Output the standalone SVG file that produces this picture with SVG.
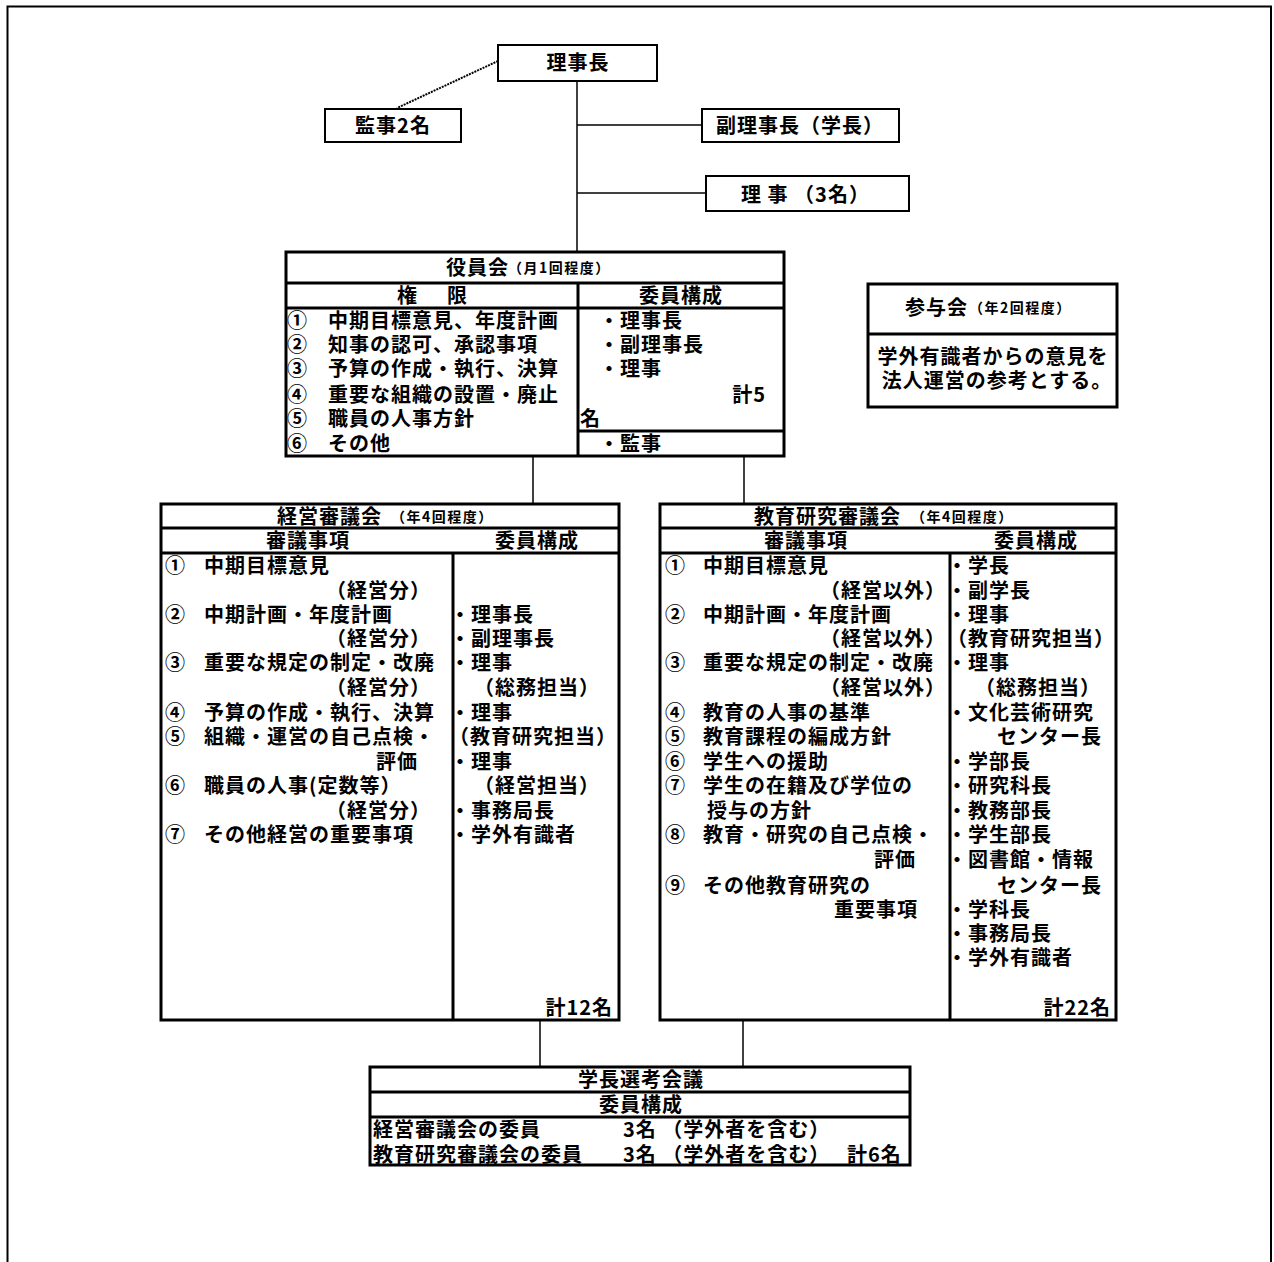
<svg xmlns="http://www.w3.org/2000/svg" width="1274" height="1262" viewBox="0 0 1274 1262">
<style>
text{font-family:"Noto Sans CJK JP","Noto Sans CJK SC",sans-serif;font-weight:bold;font-size:20px;letter-spacing:1px;fill:#000}
.s{font-size:14px;letter-spacing:1.5px}
.c{text-anchor:middle}
.e{text-anchor:end}
.box{fill:#fff;stroke:#000;stroke-width:2}
.big{fill:#fff;stroke:#000;stroke-width:3}
.ln{stroke:#000;stroke-width:3;fill:none}
.con{stroke:#000;stroke-width:1.5;fill:none}
</style>
<rect width="1274" height="1262" fill="#fff"/>
<path d="M7.5,1262 V6.5 H1271 V1262" fill="none" stroke="#000" stroke-width="2"/>

<g id="connectors">
<line class="con" x1="577" y1="81" x2="577" y2="252"/>
<line class="con" x1="577" y1="125" x2="702" y2="125"/>
<line class="con" x1="577" y1="193" x2="706" y2="193"/>
<line x1="498" y1="61" x2="397" y2="108" stroke="#000" stroke-width="2" stroke-dasharray="2,1"/>
<line class="con" x1="533" y1="456" x2="533" y2="504"/>
<line class="con" x1="744" y1="456" x2="744" y2="504"/>
<line class="con" x1="540" y1="1020" x2="540" y2="1067"/>
<line class="con" x1="743" y1="1020" x2="743" y2="1067"/>
</g>

<g id="rijicho">
<rect class="box" x="498" y="45" width="159" height="36"/>
<text class="c" x="578" y="70">理事長</text>
</g>

<g id="kanji">
<rect class="box" x="325" y="109" width="136" height="33"/>
<text class="c" x="393" y="133">監事2名</text>
</g>

<g id="fukurijicho">
<rect class="box" x="702" y="109" width="197" height="33"/>
<text class="c" x="800" y="133">副理事長（学長）</text>
</g>

<g id="riji">
<rect class="box" x="706" y="176" width="203" height="35"/>
<text x="741" y="202">理 事 （3名）</text>
</g>

<g id="yakuinkai">
<rect class="big" x="286" y="252" width="498" height="204"/>
<line class="ln" x1="286" y1="283" x2="784" y2="283"/>
<line class="ln" x1="286" y1="308" x2="784" y2="308"/>
<line class="ln" x1="578" y1="283" x2="578" y2="456"/>
<line class="ln" x1="578" y1="431" x2="784" y2="431"/>
<text x="446" y="275">役員会</text>
<text class="s" x="508" y="273">（月1回程度）</text>
<text x="397" y="303">権</text>
<text x="447" y="303">限</text>
<text class="c" x="681" y="303">委員構成</text>
<text x="287" y="328">①</text><text x="328" y="328">中期目標意見、年度計画</text>
<text x="287" y="352">②</text><text x="328" y="352">知事の認可、承認事項</text>
<text x="287" y="376">③</text><text x="328" y="376">予算の作成・執行、決算</text>
<text x="287" y="402">④</text><text x="328" y="402">重要な組織の設置・廃止</text>
<text x="287" y="426">⑤</text><text x="328" y="426">職員の人事方針</text>
<text x="287" y="451">⑥</text><text x="328" y="451">その他</text>
<text x="599" y="328">・理事長</text>
<text x="599" y="352">・副理事長</text>
<text x="599" y="376">・理事</text>
<text class="e" x="766" y="402">計5</text>
<text x="580" y="426">名</text>
<text x="599" y="451">・監事</text>
</g>

<g id="sanyokai">
<rect class="big" x="868" y="284" width="249" height="123"/>
<line class="ln" x1="868" y1="334" x2="1117" y2="334"/>
<text x="905" y="315">参与会</text>
<text class="s" x="969" y="313">（年2回程度）</text>
<text class="c" x="993" y="364">学外有識者からの意見を</text>
<text class="c" x="997" y="388">法人運営の参考とする。</text>
</g>

<g id="keiei">
<rect class="big" x="161" y="504" width="458" height="516"/>
<line class="ln" x1="161" y1="528" x2="619" y2="528"/>
<line class="ln" x1="161" y1="553" x2="619" y2="553"/>
<line class="ln" x1="453" y1="553" x2="453" y2="1020"/>
<text x="277" y="524">経営審議会</text>
<text class="s" x="391" y="522">（年4回程度）</text>
<text class="c" x="308" y="548">審議事項</text>
<text class="c" x="537" y="548">委員構成</text>
<text x="165" y="573">①</text><text x="204" y="573">中期目標意見</text>
<text class="e" x="431" y="598">（経営分）</text>
<text x="165" y="622">②</text><text x="204" y="622">中期計画・年度計画</text>
<text class="e" x="431" y="646">（経営分）</text>
<text x="165" y="670">③</text><text x="204" y="670">重要な規定の制定・改廃</text>
<text class="e" x="431" y="695">（経営分）</text>
<text x="165" y="720">④</text><text x="204" y="720">予算の作成・執行、決算</text>
<text x="165" y="744">⑤</text><text x="204" y="744">組織・運営の自己点検・</text>
<text class="e" x="418" y="769">評価</text>
<text x="165" y="793">⑥</text><text x="204" y="793">職員の人事(定数等）</text>
<text class="e" x="431" y="818">（経営分）</text>
<text x="165" y="842">⑦</text><text x="204" y="842">その他経営の重要事項</text>
<text x="450" y="622">・理事長</text>
<text x="450" y="646">・副理事長</text>
<text x="450" y="670">・理事</text>
<text x="474" y="695">（総務担当）</text>
<text x="450" y="720">・理事</text>
<text x="449" y="744">（教育研究担当）</text>
<text x="450" y="769">・理事</text>
<text x="474" y="793">（経営担当）</text>
<text x="450" y="818">・事務局長</text>
<text x="450" y="842">・学外有識者</text>
<text class="e" x="613" y="1015">計12名</text>
</g>

<g id="kyoiku">
<rect class="big" x="660" y="504" width="456" height="516"/>
<line class="ln" x1="660" y1="528" x2="1116" y2="528"/>
<line class="ln" x1="660" y1="553" x2="1116" y2="553"/>
<line class="ln" x1="950" y1="553" x2="950" y2="1020"/>
<text x="754" y="524">教育研究審議会</text>
<text class="s" x="911" y="522">（年4回程度）</text>
<text class="c" x="806" y="548">審議事項</text>
<text class="c" x="1036" y="548">委員構成</text>
<text x="665" y="573">①</text><text x="703" y="573">中期目標意見</text>
<text class="e" x="946" y="598">（経営以外）</text>
<text x="665" y="622">②</text><text x="703" y="622">中期計画・年度計画</text>
<text class="e" x="946" y="646">（経営以外）</text>
<text x="665" y="670">③</text><text x="703" y="670">重要な規定の制定・改廃</text>
<text class="e" x="946" y="695">（経営以外）</text>
<text x="665" y="720">④</text><text x="703" y="720">教育の人事の基準</text>
<text x="665" y="744">⑤</text><text x="703" y="744">教育課程の編成方針</text>
<text x="665" y="769">⑥</text><text x="703" y="769">学生への援助</text>
<text x="665" y="793">⑦</text><text x="703" y="793">学生の在籍及び学位の</text>
<text x="707" y="818">授与の方針</text>
<text x="665" y="842">⑧</text><text x="703" y="842">教育・研究の自己点検・</text>
<text class="e" x="916" y="867">評価</text>
<text x="665" y="893">⑨</text><text x="703" y="893">その他教育研究の</text>
<text class="e" x="918" y="917">重要事項</text>
<text x="947" y="573">・学長</text>
<text x="947" y="598">・副学長</text>
<text x="947" y="622">・理事</text>
<text x="947" y="646">（教育研究担当）</text>
<text x="947" y="670">・理事</text>
<text x="975" y="695">（総務担当）</text>
<text x="947" y="720">・文化芸術研究</text>
<text x="997" y="744">センター長</text>
<text x="947" y="769">・学部長</text>
<text x="947" y="793">・研究科長</text>
<text x="947" y="818">・教務部長</text>
<text x="947" y="842">・学生部長</text>
<text x="947" y="867">・図書館・情報</text>
<text x="997" y="893">センター長</text>
<text x="947" y="917">・学科長</text>
<text x="947" y="941">・事務局長</text>
<text x="947" y="965">・学外有識者</text>
<text class="e" x="1111" y="1015">計22名</text>
</g>

<g id="gakucho">
<rect class="big" x="370" y="1067" width="540" height="98"/>
<line class="ln" x1="370" y1="1092" x2="910" y2="1092"/>
<line class="ln" x1="370" y1="1117" x2="910" y2="1117"/>
<text class="c" x="641" y="1087">学長選考会議</text>
<text class="c" x="641" y="1112">委員構成</text>
<text x="373" y="1137">経営審議会の委員</text>
<text x="623" y="1137">3名 （学外者を含む）</text>
<text x="373" y="1162">教育研究審議会の委員</text>
<text x="623" y="1162">3名 （学外者を含む）</text>
<text x="847" y="1162">計6名</text>
</g>
</svg>
